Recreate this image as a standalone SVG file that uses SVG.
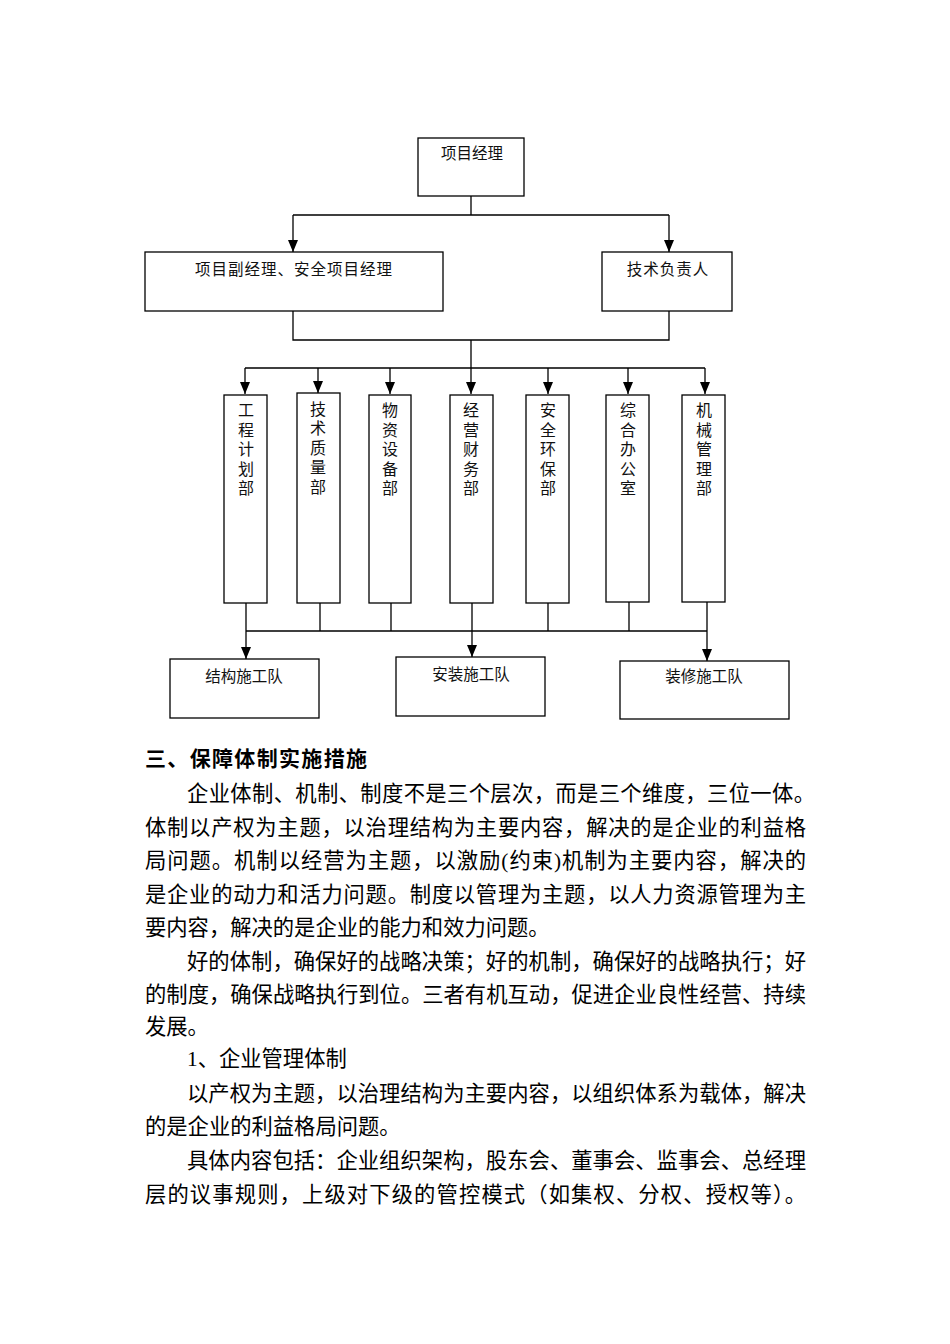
<svg xmlns="http://www.w3.org/2000/svg" width="950" height="1344" viewBox="0 0 950 1344">
<style>
.box{fill:#fff;stroke:#000;stroke-width:1.3}
.ln{fill:none;stroke:#000;stroke-width:1.3}
.lb{font-family:"Liberation Serif","Noto Sans CJK SC",serif;font-size:15.5px;fill:#111;text-anchor:middle}
.vt{font-family:"Liberation Serif","Noto Sans CJK SC",serif;font-size:16px;fill:#111;text-anchor:middle}
.p{font-family:"Liberation Serif","Noto Sans CJK SC",serif;font-size:21.3px;fill:#000}
.h{font-family:"Liberation Serif","Noto Sans CJK SC",serif;font-size:21px;font-weight:bold;fill:#000}
</style>
<defs>
<marker id="ah" markerUnits="userSpaceOnUse" markerWidth="12" markerHeight="10" refX="12" refY="5" orient="auto">
<path d="M0,0 L12,5 L0,10 z" fill="#000"/>
</marker>
</defs>
<rect width="950" height="1344" fill="#fff"/>

<g id="connectors">
<path class="ln" d="M471,196 V215 M293,215 H669"/>
<path class="ln" d="M293,215 V252" marker-end="url(#ah)"/>
<path class="ln" d="M669,215 V252" marker-end="url(#ah)"/>
<path class="ln" d="M293,311 V340 H669 V311 M471,340 V368 M245,368 H705"/>
<path class="ln" d="M245,368 V394" marker-end="url(#ah)"/>
<path class="ln" d="M318,368 V393" marker-end="url(#ah)"/>
<path class="ln" d="M390,368 V394" marker-end="url(#ah)"/>
<path class="ln" d="M471,368 V394" marker-end="url(#ah)"/>
<path class="ln" d="M548,368 V394" marker-end="url(#ah)"/>
<path class="ln" d="M628,368 V394" marker-end="url(#ah)"/>
<path class="ln" d="M705,368 V394" marker-end="url(#ah)"/>
<path class="ln" d="M246,603 V631 M320,603 V631 M391,603 V631 M472,603 V631 M548,603 V631 M629,602 V631 M707,602 V631 M246,631 H707"/>
<path class="ln" d="M246,631 V659" marker-end="url(#ah)"/>
<path class="ln" d="M472,631 V657" marker-end="url(#ah)"/>
<path class="ln" d="M707,631 V661" marker-end="url(#ah)"/>
</g>

<g id="n-pm"><rect class="box" x="418" y="138" width="106" height="58"/><text class="lb" x="472" y="159">项目经理</text></g>
<g id="n-dpm"><rect class="box" x="145" y="252" width="298" height="59"/><text class="lb" x="294" y="275" letter-spacing="1">项目副经理、安全项目经理</text></g>
<g id="n-tech"><rect class="box" x="602" y="252" width="130" height="59"/><text class="lb" x="668" y="275" letter-spacing="1">技术负责人</text></g>

<g id="d1"><rect class="box" x="224" y="395" width="43" height="208"/>
<text class="vt" x="246"><tspan x="246" y="416">工</tspan><tspan x="246" y="436">程</tspan><tspan x="246" y="455">计</tspan><tspan x="246" y="475">划</tspan><tspan x="246" y="494">部</tspan></text></g>
<g id="d2"><rect class="box" x="297" y="393" width="43" height="210"/>
<text class="vt" x="318"><tspan x="318" y="415">技</tspan><tspan x="318" y="434">术</tspan><tspan x="318" y="454">质</tspan><tspan x="318" y="473">量</tspan><tspan x="318" y="493">部</tspan></text></g>
<g id="d3"><rect class="box" x="369" y="395" width="42" height="208"/>
<text class="vt" x="390"><tspan x="390" y="416">物</tspan><tspan x="390" y="436">资</tspan><tspan x="390" y="455">设</tspan><tspan x="390" y="475">备</tspan><tspan x="390" y="494">部</tspan></text></g>
<g id="d4"><rect class="box" x="450" y="395" width="43" height="208"/>
<text class="vt" x="471"><tspan x="471" y="416">经</tspan><tspan x="471" y="436">营</tspan><tspan x="471" y="455">财</tspan><tspan x="471" y="475">务</tspan><tspan x="471" y="494">部</tspan></text></g>
<g id="d5"><rect class="box" x="526" y="395" width="43" height="208"/>
<text class="vt" x="548"><tspan x="548" y="416">安</tspan><tspan x="548" y="436">全</tspan><tspan x="548" y="455">环</tspan><tspan x="548" y="475">保</tspan><tspan x="548" y="494">部</tspan></text></g>
<g id="d6"><rect class="box" x="606" y="395" width="43" height="207"/>
<text class="vt" x="628"><tspan x="628" y="416">综</tspan><tspan x="628" y="436">合</tspan><tspan x="628" y="455">办</tspan><tspan x="628" y="475">公</tspan><tspan x="628" y="494">室</tspan></text></g>
<g id="d7"><rect class="box" x="682" y="395" width="43" height="207"/>
<text class="vt" x="704"><tspan x="704" y="416">机</tspan><tspan x="704" y="436">械</tspan><tspan x="704" y="455">管</tspan><tspan x="704" y="475">理</tspan><tspan x="704" y="494">部</tspan></text></g>

<g id="t1"><rect class="box" x="170" y="659" width="149" height="59"/><text class="lb" x="244" y="682">结构施工队</text></g>
<g id="t2"><rect class="box" x="396" y="657" width="149" height="59"/><text class="lb" x="471" y="680">安装施工队</text></g>
<g id="t3"><rect class="box" x="620" y="661" width="169" height="58"/><text class="lb" x="704" y="682">装修施工队</text></g>

<g id="body">
<text class="h" x="145" y="766" textLength="222" lengthAdjust="spacing">三、保障体制实施措施</text>
<text class="p" x="187" y="801" textLength="628" lengthAdjust="spacing">企业体制、机制、制度不是三个层次，而是三个维度，三位一体。</text>
<text class="p" x="145" y="835" textLength="661" lengthAdjust="spacing">体制以产权为主题，以治理结构为主要内容，解决的是企业的利益格</text>
<text class="p" x="145" y="868" textLength="661" lengthAdjust="spacing">局问题。机制以经营为主题，以激励(约束)机制为主要内容，解决的</text>
<text class="p" x="145" y="902" textLength="661" lengthAdjust="spacing">是企业的动力和活力问题。制度以管理为主题，以人力资源管理为主</text>
<text class="p" x="145" y="935">要内容，解决的是企业的能力和效力问题。</text>
<text class="p" x="187" y="969" textLength="619" lengthAdjust="spacing">好的体制，确保好的战略决策；好的机制，确保好的战略执行；好</text>
<text class="p" x="145" y="1002" textLength="661" lengthAdjust="spacing">的制度，确保战略执行到位。三者有机互动，促进企业良性经营、持续</text>
<text class="p" x="145" y="1034">发展。</text>
<text class="p" x="187" y="1066">1、企业管理体制</text>
<text class="p" x="187" y="1101" textLength="619" lengthAdjust="spacing">以产权为主题，以治理结构为主要内容，以组织体系为载体，解决</text>
<text class="p" x="145" y="1134">的是企业的利益格局问题。</text>
<text class="p" x="187" y="1168" textLength="619" lengthAdjust="spacing">具体内容包括：企业组织架构，股东会、董事会、监事会、总经理</text>
<text class="p" x="145" y="1202" textLength="661" lengthAdjust="spacing">层的议事规则，上级对下级的管控模式（如集权、分权、授权等）。</text>
</g>
</svg>
